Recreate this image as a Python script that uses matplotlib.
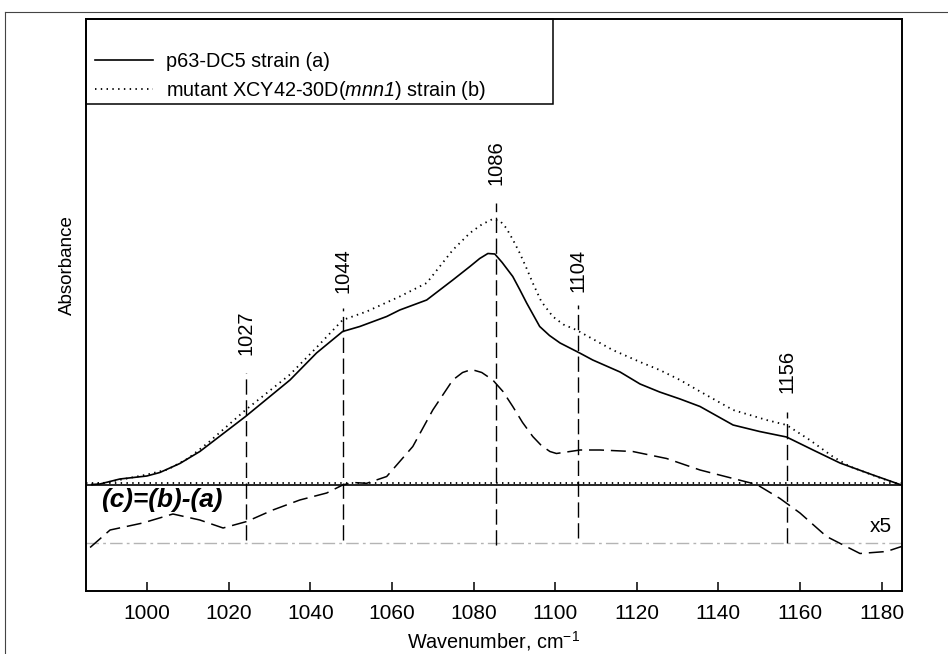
import matplotlib
matplotlib.use('Agg')
import matplotlib.pyplot as plt
from matplotlib.lines import Line2D
from matplotlib.patches import Rectangle

plt.rcParams['font.family'] = ['Liberation Sans', 'DejaVu Sans']
plt.rcParams['mathtext.fontset'] = 'custom'
plt.rcParams['mathtext.rm'] = 'Liberation Sans'
plt.rcParams['mathtext.it'] = 'Liberation Sans:italic'
plt.rcParams['mathtext.sf'] = 'Liberation Sans:italic'

# spectrum (a) p63-DC5
wn_a = [986.4, 988.4, 993.3, 999.9, 1003.1, 1008.0, 1012.9, 1016.1, 1024.1, 1035.0,
        1041.5, 1047.9, 1052.1, 1058.7, 1061.9, 1068.5, 1074.9, 1079.1, 1081.5, 1083.5,
        1085.2, 1087.0, 1089.6, 1091.3, 1093.0, 1094.7, 1096.2, 1098.6, 1101.2, 1106.0,
        1109.2, 1115.9, 1120.8, 1125.6, 1130.6, 1135.5, 1143.6, 1150.1, 1156.7, 1163.2,
        1169.8, 1177.9, 1184.5]
abs_a = [0.0, 0.005, 0.055, 0.085, 0.12, 0.21, 0.33, 0.43, 0.68, 1.045,
         1.315, 1.53, 1.58, 1.68, 1.745, 1.845, 2.045, 2.18, 2.26, 2.31,
         2.305, 2.22, 2.08, 1.95, 1.815, 1.69, 1.58, 1.49, 1.415, 1.315,
         1.245, 1.125, 1.005, 0.925, 0.855, 0.78, 0.595, 0.53, 0.475, 0.345,
         0.215, 0.095, 0.0]

# spectrum (b) mutant XCY42-30D(mnn1)
wn_b = [986.4, 990.0, 995.0, 1000.0, 1005.0, 1010.0, 1015.0, 1024.1, 1035.0, 1041.5,
        1047.9, 1053.8, 1061.9, 1068.5, 1074.9, 1079.1, 1082.0, 1084.7, 1086.5, 1088.0,
        1089.6, 1091.3, 1093.0, 1094.5, 1096.6, 1099.4, 1102.0, 1105.2, 1114.1, 1120.8,
        1125.6, 1130.6, 1135.5, 1143.6, 1151.8, 1156.7, 1162.4, 1168.0, 1172.2, 1180.0,
        1184.5]
abs_b = [0.0, 0.02, 0.06, 0.10, 0.15, 0.26, 0.42, 0.745, 1.10, 1.37,
         1.645, 1.73, 1.88, 2.015, 2.345, 2.515, 2.6, 2.655, 2.635, 2.565,
         2.45, 2.315, 2.16, 2.015, 1.83, 1.68, 1.6, 1.545, 1.345, 1.225,
         1.145, 1.045, 0.93, 0.745, 0.645, 0.595, 0.445, 0.28, 0.18, 0.06,
         0.0]

# difference (c) = (b) - (a), x5
wn_c = [986.0, 990.9, 998.9, 1006.3, 1012.9, 1018.6, 1024.4, 1030.8, 1037.4, 1044.0,
        1047.9, 1050.4, 1053.8, 1058.7, 1065.1, 1070.0, 1074.9, 1077.3, 1079.5, 1082.0,
        1084.7, 1087.2, 1089.6, 1092.0, 1094.5, 1096.6, 1098.7, 1100.3, 1106.1, 1111.0,
        1119.0, 1127.3, 1135.5, 1143.6, 1149.4, 1155.1, 1160.0, 1166.5, 1174.7, 1181.2,
        1184.9]
abs_c = [-0.63, -0.455, -0.385, -0.295, -0.355, -0.435, -0.37, -0.255, -0.155, -0.085,
         -0.005, 0.02, 0.012, 0.08, 0.38, 0.745, 1.045, 1.12, 1.15, 1.12,
         1.045, 0.93, 0.78, 0.62, 0.48, 0.39, 0.33, 0.31, 0.345, 0.345,
         0.33, 0.26, 0.145, 0.06, 0.0, -0.14, -0.285, -0.52, -0.69, -0.67,
         -0.62]
diff_base = -0.58

# marked bands
peak_pos = [1024.1, 1047.9, 1085.6, 1105.7, 1156.9]
peak_text = ['1027', '1044', '1086', '1104', '1156']
line_top = [1.115, 1.765, 2.815, 1.795, 0.73]
line_bottom = [-0.555, -0.555, -0.605, -0.535, -0.585]
label_bottom = [1.295, 1.915, 2.995, 1.925, 0.915]

xticks = list(range(1000, 1181, 20))

fig = plt.figure(figsize=(9.48, 6.54), dpi=100)
ax = fig.add_axes([86 / 948, 1 - 590.5 / 654, 816 / 948, 571.5 / 654])

# baselines of the spectra
ax.axhline(0, color='black', lw=1.2)
ax.axhline(0.012, color='black', lw=1.3, linestyle=(0, (0.8, 2.4)))
ax.axhline(diff_base, color='#b4b4b4', lw=1.0, dashes=(9, 3, 2, 3))

la, = ax.plot(wn_a, abs_a, color='black', lw=1.2, label='p63-DC5 strain (a)')
lb, = ax.plot(wn_b, abs_b, color='black', lw=1.3, linestyle=(0, (0.8, 2.4)),
              label='mutant XCY42-30D($\\mathsf{mnn1}$) strain (b)')
ax.plot(wn_c, abs_c, color='black', lw=1.1, dashes=(9.8, 4.5))

ax.vlines(peak_pos, line_bottom, line_top, color='black', lw=1.0,
          linestyles=[(0, (11, 4))])
for x, t, y in zip(peak_pos, peak_text, label_bottom):
    ax.text(x, y, t, rotation=90, ha='center', va='bottom', fontsize=14.5)

ax.text(988.8, -0.16, '(c)=(b)-(a)', fontsize=18.8, fontweight='bold',
        fontstyle='italic', ha='left', va='center')
ax.text(1182.5, -0.425, 'x5', fontsize=15, ha='right', va='center')

ax.set_xlim(985, 1185)
ax.set_ylim(-1.06, 4.655)
ax.set_xticks(xticks)
ax.set_yticks([])
ax.tick_params(axis='x', direction='in', length=6.5, width=1.1, labelsize=15, pad=10)
for s in ax.spines.values():
    s.set_linewidth(1.4)

ax.set_xlabel('Wavenumber, cm$^{-1}$', fontsize=14.3, labelpad=4)
ax.set_ylabel('Absorbance', fontsize=13.5)
ax.yaxis.set_label_coords(-0.012, 0.57)

# legend box at the upper left corner
ax.legend(handles=[la, lb], loc='upper left', bbox_to_anchor=(0.011, 0.943),
          frameon=False, fontsize=14.3, handlelength=2.9, handletextpad=0.69,
          labelspacing=0.44, borderpad=0, borderaxespad=0)
ax.add_patch(Rectangle((0, 1 - 85 / 571.5), 467 / 816, 85 / 571.5,
                       transform=ax.transAxes, fill=False, lw=1.1,
                       edgecolor='black', clip_on=False, zorder=5))

# outer frame of the figure
fig.add_artist(Line2D([5 / 948, 1], [1 - 12 / 654, 1 - 12 / 654],
                      transform=fig.transFigure, color='#444444', lw=0.8))
fig.add_artist(Line2D([5 / 948, 5 / 948], [0, 1 - 12 / 654],
                      transform=fig.transFigure, color='#444444', lw=0.8))

fig.savefig('out.png', dpi=100)
